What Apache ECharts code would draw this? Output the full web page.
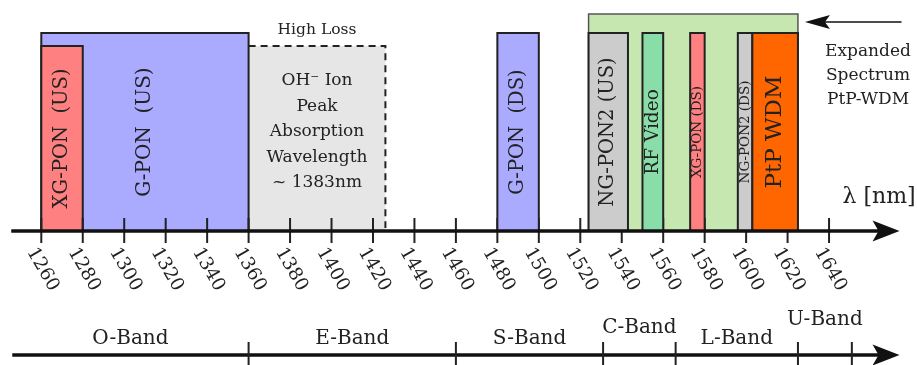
<!DOCTYPE html>
<html>
<head>
<meta charset="utf-8">
<script src="https://cdn.jsdelivr.net/npm/echarts@6/dist/echarts.min.js"></script>
<style>
  html, body { margin: 0; padding: 0; background: #ffffff; }
  #chart { width: 917px; height: 365px; }
</style>
</head>
<body>
<div id="chart"></div>
<script>
// Wavelength tick labels along the main axis (nm)
const tickLabels = [1260, 1280, 1300, 1320, 1340, 1360, 1380, 1400, 1420, 1440,
                    1460, 1480, 1500, 1520, 1540, 1560, 1580, 1600, 1620, 1640];

// PON channel allocations (nm)
const channelNames = ['G-PON  (US)', 'XG-PON  (US)', 'G-PON  (DS)', 'NG-PON2 (US)',
                      'RF Video', 'XG-PON (DS)', 'NG-PON2 (DS)', 'PtP WDM'];
const channelStart = [1260, 1260, 1480, 1524, 1550, 1573, 1596, 1603];
const channelEnd   = [1360, 1280, 1500, 1543, 1560, 1580, 1603, 1625];

// OH- water peak (high loss) region and the expanded PtP-WDM spectrum (nm)
const waterPeak = [1360, 1426];
const expandedSpectrum = [1524, 1625];

// Optical transmission bands and their boundaries (nm)
const bandNames = ['O-Band', 'E-Band', 'S-Band', 'C-Band', 'L-Band', 'U-Band'];
const bandEdges = [1246, 1360, 1460, 1531, 1566, 1625, 1651];

// Axis extents (nm)
const axisStart = 1245.5;
const axisEnd = 1674;

// ---- appearance ----
const FONT = 'DejaVu Serif';
const INK = '#222222';
const channelLook = {
  'G-PON  (US)':  { fill: '#aaaaff', top: 198, size: 20,   layer: 'under' },
  'XG-PON  (US)': { fill: '#ff8080', top: 185, size: 19.5, layer: 'under' },
  'G-PON  (DS)':  { fill: '#aaaaff', top: 198, size: 19.5, layer: 'over' },
  'NG-PON2 (US)': { fill: '#cccccc', top: 198, size: 19.5, layer: 'over' },
  'RF Video':     { fill: '#88dda8', top: 198, size: 18.5, layer: 'over' },
  'XG-PON (DS)':  { fill: '#ff8080', top: 198, size: 13.5, layer: 'over' },
  'NG-PON2 (DS)': { fill: '#cccccc', top: 198, size: 13.5, layer: 'over' },
  'PtP WDM':      { fill: '#ff6600', top: 198, size: 23,   layer: 'over' }
};
const waterPeakTop = 185;
const expandedTop = 217;
const bandAxisY = -124;             // band axis height relative to the main axis
const bandLabelLift = { 'C-Band': 11, 'U-Band': 19 };

function arrowHead(tipX, y, len, half, notch, fill) {
  return {
    type: 'polygon',
    shape: { points: [[tipX, y], [tipX - len, y - half], [tipX - len + notch, y], [tipX - len, y + half]] },
    style: { fill: fill }
  };
}

function channelSeries(layer, z) {
  const data = [];
  channelNames.forEach(function (n, i) {
    if (channelLook[n].layer === layer) data.push([channelStart[i], channelEnd[i], i]);
  });
  return {
    type: 'custom', z: z, data: data, silent: true,
    renderItem: function (params, api) {
      const i = api.value(2);
      const name = channelNames[i];
      const look = channelLook[name];
      const p0 = api.coord([api.value(0), 0]);
      const p1 = api.coord([api.value(1), look.top]);
      const w = p1[0] - p0[0], h = p0[1] - p1[1];
      return {
        type: 'group',
        children: [
          { type: 'rect', shape: { x: p0[0], y: p1[1], width: w, height: h },
            style: { fill: look.fill, stroke: INK, lineWidth: 2 } },
          { type: 'text', x: p0[0] + w / 2, y: p1[1] + h / 2, rotation: Math.PI / 2,
            style: { text: name, fill: INK, font: look.size + 'px "' + FONT + '"',
                     align: 'center', verticalAlign: 'middle' } }
        ]
      };
    }
  };
}

const chart = echarts.init(document.getElementById('chart'), null, { renderer: 'canvas' });

chart.setOption({
  animation: false,
  backgroundColor: '#ffffff',
  grid: { left: 10.2, right: 15.4, top: 0, bottom: 134, containLabel: false },
  xAxis: { type: 'value', min: 1245, max: 1675, show: false },
  yAxis: { type: 'value', min: 0, max: 231, show: false },
  series: [
    // expanded spectrum background box
    {
      type: 'custom', z: 1, silent: true, data: [expandedSpectrum],
      renderItem: function (params, api) {
        const p0 = api.coord([api.value(0), 0]);
        const p1 = api.coord([api.value(1), expandedTop]);
        return { type: 'rect', shape: { x: p0[0], y: p1[1], width: p1[0] - p0[0], height: p0[1] - p1[1] },
                 style: { fill: '#c6e8b0', stroke: '#555555', lineWidth: 1.5 } };
      }
    },
    // high-loss water peak region
    {
      type: 'custom', z: 2, silent: true, data: [waterPeak],
      renderItem: function (params, api) {
        const p0 = api.coord([api.value(0), 0]);
        const p1 = api.coord([api.value(1), waterPeakTop]);
        const cx = (p0[0] + p1[0]) / 2;
        return {
          type: 'group',
          children: [
            { type: 'rect', shape: { x: p0[0], y: p1[1], width: p1[0] - p0[0], height: p0[1] - p1[1] },
              style: { fill: '#e6e6e6' } },
            { type: 'polyline', shape: { points: [[p0[0], p1[1]], [p1[0], p1[1]], [p1[0], p0[1] - 3]] },
              style: { stroke: INK, lineWidth: 2, lineDash: [7, 5], fill: null } },
            { type: 'text', x: cx, y: p1[1] - 16,
              style: { text: 'High Loss', fill: INK, font: '15.5px "' + FONT + '"',
                       align: 'center', verticalAlign: 'middle' } },
            { type: 'text', x: cx, y: 132,
              style: { text: 'OH\u207B Ion\nPeak\nAbsorption\nWavelength\n~ 1383nm', fill: INK,
                       font: '17px "' + FONT + '"', lineHeight: 25.5,
                       align: 'center', verticalAlign: 'middle' } }
          ]
        };
      }
    },
    channelSeries('under', 3),
    // wavelength ticks and rotated tick labels
    {
      type: 'custom', z: 4, silent: true, data: tickLabels.map(function (t) { return [t]; }),
      renderItem: function (params, api) {
        const t = api.value(0);
        const top = api.coord([t, 13]);
        const bot = api.coord([t, -12]);
        const base = api.coord([t, 0]);
        return {
          type: 'group',
          children: [
            { type: 'line', shape: { x1: top[0], y1: top[1], x2: bot[0], y2: bot[1] },
              style: { stroke: INK, lineWidth: 2 } },
            { type: 'text', x: base[0] - 10.5, y: base[1] + 18, rotation: -Math.PI / 3,
              style: { text: String(t), fill: INK, font: '18.5px "' + FONT + '"',
                       align: 'left', verticalAlign: 'middle' } }
          ]
        };
      }
    },
    channelSeries('over', 5),
    // main wavelength axis with arrow and unit label
    {
      type: 'custom', z: 6, silent: true, data: [[axisStart, axisEnd]],
      renderItem: function (params, api) {
        const a = api.coord([api.value(0), 0]);
        const b = api.coord([api.value(1), 0]);
        return {
          type: 'group',
          children: [
            { type: 'line', shape: { x1: a[0], y1: a[1], x2: b[0] - 20, y2: b[1] },
              style: { stroke: '#111111', lineWidth: 3.5 } },
            arrowHead(b[0], b[1], 27, 10.5, 6, '#111111'),
            { type: 'text', x: b[0] - 57, y: b[1] - 34,
              style: { text: '\u03BB [nm]', fill: INK, font: '22px "' + FONT + '"',
                       align: 'left', verticalAlign: 'middle' } }
          ]
        };
      }
    },
    // optical bands axis
    {
      type: 'custom', z: 6, silent: true, data: [[bandEdges[0], axisEnd]],
      renderItem: function (params, api) {
        const a = api.coord([api.value(0), bandAxisY]);
        const b = api.coord([api.value(1), bandAxisY]);
        return {
          type: 'group',
          children: [
            { type: 'line', shape: { x1: a[0], y1: a[1], x2: b[0] - 20, y2: b[1] },
              style: { stroke: '#111111', lineWidth: 3.5 } },
            arrowHead(b[0], b[1], 27, 10.5, 6, '#111111')
          ]
        };
      }
    },
    {
      type: 'custom', z: 6, silent: true,
      data: bandNames.map(function (n, i) { return [bandEdges[i], bandEdges[i + 1], i]; }),
      renderItem: function (params, api) {
        const i = api.value(2);
        const name = bandNames[i];
        const lo = api.coord([api.value(0), bandAxisY]);
        const hi = api.coord([api.value(1), bandAxisY]);
        const lift = bandLabelLift[name] || 0;
        return {
          type: 'group',
          children: [
            { type: 'line', shape: { x1: hi[0], y1: hi[1] - 13, x2: hi[0], y2: hi[1] + 14 },
              style: { stroke: INK, lineWidth: 2 } },
            { type: 'text', x: (lo[0] + hi[0]) / 2, y: hi[1] - 16 - lift,
              style: { text: name, fill: INK, font: '20px "' + FONT + '"',
                       align: 'center', verticalAlign: 'middle' } }
          ]
        };
      }
    },
    // pointer to the expanded spectrum
    {
      type: 'custom', z: 6, silent: true, data: [[expandedSpectrum[1], axisEnd]],
      renderItem: function (params, api) {
        const a = api.coord([api.value(0), 209]);
        const b = api.coord([api.value(1), 209]);
        const tip = a[0] + 7;
        return {
          type: 'group',
          children: [
            { type: 'line', shape: { x1: tip + 18, y1: a[1], x2: b[0] + 2, y2: b[1] },
              style: { stroke: '#111111', lineWidth: 1.6 } },
            { type: 'polygon',
              shape: { points: [[tip, a[1]], [tip + 25, a[1] - 7], [tip + 20, a[1]], [tip + 25, a[1] + 7]] },
              style: { fill: '#111111' } },
            { type: 'text', x: 868, y: 76,
              style: { text: 'Expanded\nSpectrum\nPtP-WDM', fill: INK, font: '17px "' + FONT + '"',
                       lineHeight: 24, align: 'center', verticalAlign: 'middle' } }
          ]
        };
      }
    }
  ]
});
</script>
</body>
</html>
